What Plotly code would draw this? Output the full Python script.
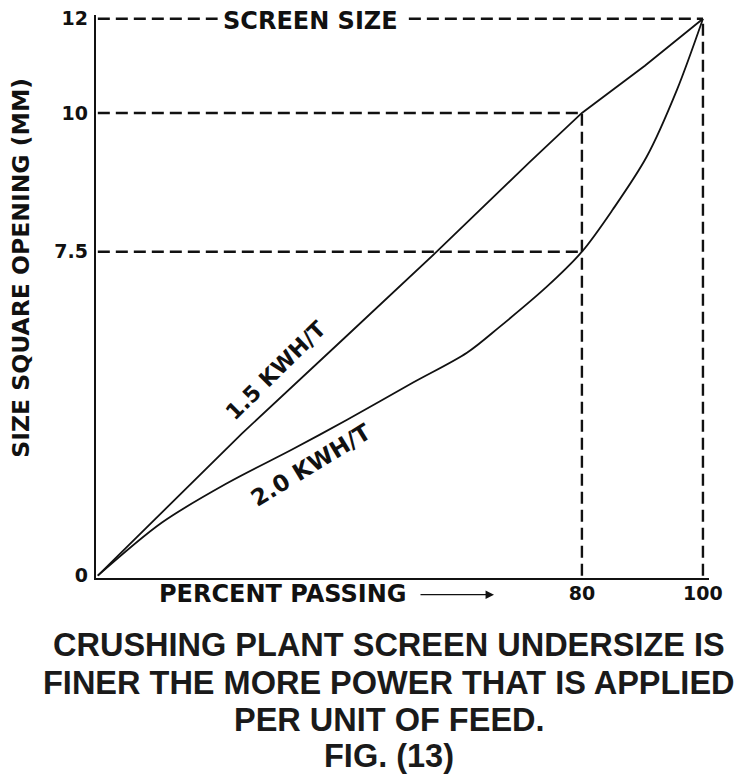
import numpy as np
import plotly.graph_objects as go

# ---- data ----
pct_15 = [0, 10.6, 23.8, 41.2, 56.0, 71.4, 80, 90.4, 100]
size_15 = [0, 1.46, 3.29, 5.56, 7.5, 9.12, 10, 11.0, 12]

pct_20 = [0, 10.6, 21.5, 32.1, 41.2, 52.1, 61.0, 66.4, 74.2, 80, 85.1, 90.7, 95.7, 100]
size_20 = [0, 1.23, 2.15, 2.92, 3.61, 4.47, 5.16, 5.76, 6.69, 7.5, 8.26, 9.21, 10.49, 12]

y_tick_values = [0, 7.5, 10, 12]
y_tick_labels = ["0", "7.5", "10", "12"]
x_tick_values = [80, 100]
x_tick_labels = ["80", "100"]

# guide lines: (percent passing, size)
guide_pct = [80, 80, 100]
guide_size = [10, 7.5, 12]

series_names = ["1.5 KWH/T", "2.0 KWH/T"]
caption_lines = [
    "CRUSHING PLANT SCREEN UNDERSIZE IS",
    "FINER THE MORE POWER THAT IS APPLIED",
    "PER UNIT OF FEED.",
    "FIG. (13)",
]

# the original drawing's size axis is not drawn to a uniform scale;
# this maps labelled sizes to the drawn axis positions
AXIS_KNOTS = [0, 7.5, 10, 12]
AXIS_DRAWN = [0, 6.98, 9.97, 12]


def ymap(v):
    return np.interp(np.asarray(v, dtype=float), AXIS_KNOTS, AXIS_DRAWN)


FONT = "DejaVu Sans"
BLACK = "#111111"

# page body has an 8px margin; plot area sits at screen px x 96..709, y 15..578
PL, PT, PW, PH = 96, 15.3, 613, 563


def px2paper(px, py):
    return (px - PL) / PW, (PT + PH - py) / PH


fig = go.Figure()

dash = "12px,6px"
top_size = max(guide_size)
for xv, yv in zip(guide_pct, guide_size):
    if yv == top_size:
        segs = [([0, 19.8], [yv, yv]), ([51.4, xv], [yv, yv])]
    else:
        segs = [([0, xv], [yv, yv])]
    for sx, sy in segs:
        fig.add_trace(go.Scatter(x=sx, y=ymap(sy), mode="lines",
                                 line=dict(color=BLACK, width=2.4, dash=dash),
                                 hoverinfo="skip", showlegend=False))
    if yv == max(s for p, s in zip(guide_pct, guide_size) if p == xv):
        fig.add_trace(go.Scatter(x=[xv, xv], y=ymap([0, yv]), mode="lines",
                                 line=dict(color=BLACK, width=2.4, dash=dash),
                                 hoverinfo="skip", showlegend=False))

fig.add_trace(go.Scatter(x=pct_15, y=ymap(size_15), mode="lines", name=series_names[0],
                         line=dict(color=BLACK, width=1.8, shape="linear"),
                         showlegend=False))
fig.add_trace(go.Scatter(x=pct_20, y=ymap(size_20), mode="lines", name=series_names[1],
                         line=dict(color=BLACK, width=1.8, shape="spline", smoothing=0.9),
                         showlegend=False))

annotations = []
annotations.append(dict(x=29.4, y=4.42, xref="x", yref="y", text=series_names[0],
                        showarrow=False, textangle=-44.5, xanchor="center", yanchor="middle",
                        font=dict(family=FONT, size=22, color=BLACK, weight="bold")))
annotations.append(dict(x=35.2, y=2.39, xref="x", yref="y", text=series_names[1],
                        showarrow=False, textangle=-31.5, xanchor="center", yanchor="middle",
                        font=dict(family=FONT, size=23, color=BLACK, weight="bold")))
annotations.append(dict(x=35.2, y=float(ymap(12)), xref="x", yref="y", text="SCREEN SIZE",
                        showarrow=False, xanchor="center", yanchor="middle", yshift=-2,
                        borderpad=0,
                        font=dict(family=FONT, size=24, color=BLACK, weight="bold")))

xl, yl = px2paper(282, 594)
annotations.append(dict(x=xl, y=yl, xref="paper", yref="paper", text="PERCENT PASSING",
                        showarrow=False, xanchor="center", yanchor="middle",
                        font=dict(family=FONT, size=24, color=BLACK, weight="bold")))
xa, ya = px2paper(494, 595)
annotations.append(dict(x=xa, y=ya, xref="paper", yref="paper", text="",
                        showarrow=True, ax=-75, ay=0, arrowhead=2, arrowsize=1.3,
                        arrowwidth=1.3, arrowcolor=BLACK))
xt, yt = px2paper(21, 268)
annotations.append(dict(x=xt, y=yt, xref="paper", yref="paper",
                        text="SIZE SQUARE OPENING (MM)", showarrow=False, textangle=-90,
                        xanchor="center", yanchor="middle",
                        font=dict(family=FONT, size=23.5, color=BLACK, weight="bold")))

cap_y = [645, 683, 720, 756]
for line, py in zip(caption_lines, cap_y):
    cx, cy = px2paper(389, py)
    annotations.append(dict(x=cx, y=cy, xref="paper", yref="paper",
                            text=line, showarrow=False, yanchor="middle", xanchor="center",
                            font=dict(family="Liberation Sans, Arial, sans-serif",
                                      size=32.5, color="#1a1a1a", weight="bold")))

fig.update_layout(
    width=742, height=776,
    margin=dict(l=PL - 8, r=742 - (PL - 8) - PW, t=7, b=776 - 7 - PH),
    paper_bgcolor="white", plot_bgcolor="white",
    annotations=annotations,
    xaxis=dict(range=[-0.3, 101], showgrid=False, zeroline=False, automargin=False,
               showline=True, linecolor=BLACK, linewidth=2.4,
               tickmode="array", tickvals=x_tick_values, ticktext=x_tick_labels,
               ticks="", ticklabelstandoff=-3, ticklabeloverflow="allow",
               tickfont=dict(family=FONT, size=19, color=BLACK, weight="bold")),
    yaxis=dict(range=[-0.05, 12.08], showgrid=False, zeroline=False, automargin=False,
               showline=True, linecolor=BLACK, linewidth=2.4,
               tickmode="array", tickvals=list(ymap(y_tick_values)), ticktext=y_tick_labels,
               ticks="", ticklabelstandoff=2, ticklabeloverflow="allow",
               tickfont=dict(family=FONT, size=19, color=BLACK, weight="bold")),
)

fig.write_html("out.html")
